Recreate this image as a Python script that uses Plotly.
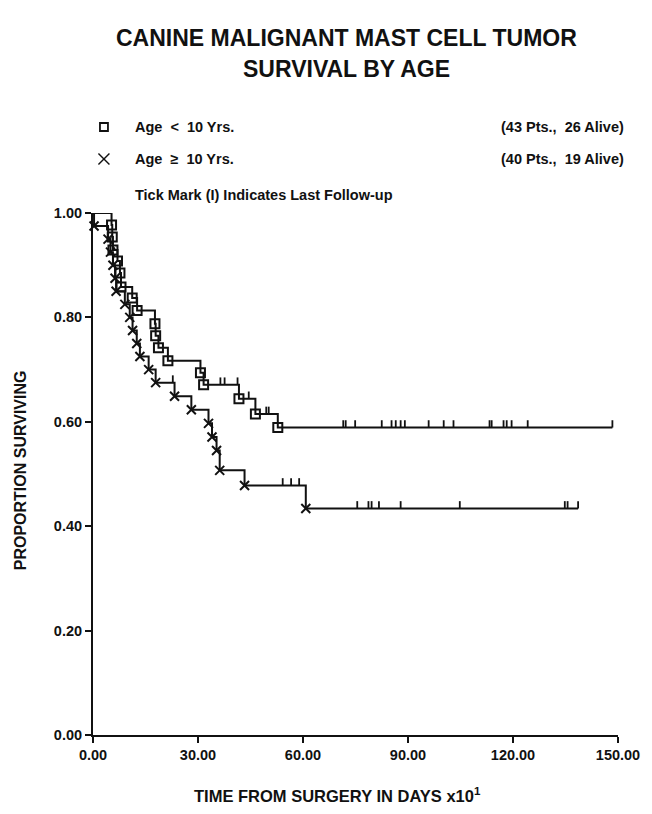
import plotly.graph_objects as go

# ---------------- data (time in days x10, proportion surviving) ----------------
# Age < 10 Yrs. (squares): death times and survival after each death
young_death_t = [5.3, 5.5, 5.7, 7.0, 7.7, 8.0, 11.2, 12.6, 17.7, 17.9, 18.7, 21.4,
                 30.7, 31.6, 41.7, 46.4, 52.8]
young_surv = [0.977, 0.954, 0.929, 0.908, 0.885, 0.858, 0.837, 0.813, 0.788, 0.765,
              0.742, 0.717, 0.694, 0.671, 0.644, 0.615, 0.589]
# censored (last follow-up) times
young_censor_t = [36.4, 37.6, 41.3, 44.5, 49.5, 50.2, 71.5, 72.2, 74.9, 82.5, 85.3,
                  86.5, 87.9, 89.1, 95.9, 100.2, 103.0, 113.3, 113.9, 117.3, 118.2,
                  119.6, 124.2, 148.4]

# Age >= 10 Yrs. (crosses)
old_death_t = [0.3, 4.3, 5.0, 5.7, 6.3, 6.6, 9.1, 10.5, 11.3, 12.5, 13.4, 15.9, 17.9,
               23.3, 28.1, 33.0, 34.0, 35.3, 36.2, 43.3, 60.8]
old_surv = [0.975, 0.95, 0.925, 0.90, 0.875, 0.85, 0.825, 0.80, 0.775, 0.75, 0.725,
            0.70, 0.675, 0.649, 0.623, 0.597, 0.571, 0.545, 0.507, 0.478, 0.434]
old_censor_t = [22.8, 54.2, 56.6, 58.9, 75.5, 78.7, 79.6, 81.7, 87.9, 104.8, 134.8,
                135.6, 138.6]

x_ticks = [0, 30, 60, 90, 120, 150]
y_ticks = [0.0, 0.2, 0.4, 0.6, 0.8, 1.0]

title_lines = ["CANINE MALIGNANT MAST CELL TUMOR", "SURVIVAL BY AGE"]
legend_young = ["Age  &lt;  10 Yrs.", "(43 Pts.,  26 Alive)"]
legend_old = ["Age  ≥  10 Yrs.", "(40 Pts.,  19 Alive)"]
note_text = "Tick Mark (I) Indicates Last Follow-up"
x_title = "TIME FROM SURGERY IN DAYS x10<sup>1</sup>"
y_title = "PROPORTION SURVIVING"

# ---------------- layout geometry (pixels) ----------------
W, H = 652, 814
PL, PR, PT, PB = 93, 620, 213, 735  # plot area edges


def px(x):
    return (x - PL) / (PR - PL)


def py(y):
    return (PB - y) / (PB - PT)


FONT = "Liberation Sans, Arial, Helvetica, sans-serif"
BLACK = "#111111"


def step_xy(times, surv, t_end):
    xs, ys = [0.0], [1.0]
    for t, s in zip(times, surv):
        xs.append(t)
        ys.append(s)
    xs.append(t_end)
    ys.append(surv[-1])
    return xs, ys


def censor_segments(ctimes, times, surv, h=0.014):
    xs, ys = [], []
    for c in ctimes:
        lvl = 1.0
        for t, s in zip(times, surv):
            if t <= c:
                lvl = s
        xs += [c, c, None]
        ys += [lvl, lvl + h, None]
    return xs, ys


fig = go.Figure()

for times, surv, cens, sym in [
    (young_death_t, young_surv, young_censor_t, "square-open"),
    (old_death_t, old_surv, old_censor_t, "x-thin-open"),
]:
    xs, ys = step_xy(times, surv, max(cens))
    fig.add_trace(go.Scatter(x=xs, y=ys, mode="lines", line_shape="hv",
                             line=dict(color=BLACK, width=2), cliponaxis=False,
                             showlegend=False, hoverinfo="skip"))
    cx, cy = censor_segments(cens, times, surv)
    fig.add_trace(go.Scatter(x=cx, y=cy, mode="lines",
                             line=dict(color=BLACK, width=1.8), cliponaxis=False,
                             showlegend=False, hoverinfo="skip"))
    fig.add_trace(go.Scatter(x=times, y=surv, mode="markers",
                             marker=dict(symbol=sym, size=9,
                                         line=dict(color=BLACK, width=2),
                                         color=BLACK),
                             cliponaxis=False, showlegend=False))

annotations = []


def add_text(text, x, y, size, xanchor="center", angle=0):
    annotations.append(dict(text=text, x=px(x), y=py(y), xref="paper", yref="paper",
                            xanchor=xanchor, yanchor="middle", showarrow=False,
                            textangle=angle,
                            font=dict(family=FONT, size=size, color=BLACK, weight="bold")))


add_text(title_lines[0], 347, 38, 23)
add_text(title_lines[1], 347, 69, 23)
add_text(legend_young[0], 133, 127, 14.5, "left")
add_text(legend_young[1], 628, 127, 14.5, "right")
add_text(legend_old[0], 133, 159, 14.5, "left")
add_text(legend_old[1], 628, 159, 14.5, "right")
add_text(note_text, 133, 195, 14.5, "left")
add_text(x_title, 338, 795, 16.5, "center")
add_text(y_title, 20, 470, 16, "center", angle=-90)

shapes = [
    # legend square
    dict(type="rect", xref="paper", yref="paper", xsizemode="pixel", ysizemode="pixel",
         xanchor=px(104), yanchor=py(127), x0=-4, x1=4, y0=-4, y1=4,
         line=dict(color=BLACK, width=1.8)),
    # legend cross
    dict(type="line", xref="paper", yref="paper", xsizemode="pixel", ysizemode="pixel",
         xanchor=px(104), yanchor=py(159), x0=-5.5, x1=5.5, y0=-5.5, y1=5.5,
         line=dict(color=BLACK, width=1.4)),
    dict(type="line", xref="paper", yref="paper", xsizemode="pixel", ysizemode="pixel",
         xanchor=px(104), yanchor=py(159), x0=-5.5, x1=5.5, y0=5.5, y1=-5.5,
         line=dict(color=BLACK, width=1.4)),
]

axis_common = dict(showline=True, linecolor=BLACK, linewidth=2, ticks="outside",
                   ticklen=6, tickwidth=2, tickcolor=BLACK, showgrid=False,
                   zeroline=False, tickformat=".2f",
                   tickfont=dict(family=FONT, size=14.5, color=BLACK, weight="bold"))

fig.update_layout(
    width=W, height=H,
    margin=dict(l=PL, r=W - PR, t=PT, b=H - PB, pad=0),
    paper_bgcolor="white", plot_bgcolor="white",
    xaxis=dict(range=[0, 150], tickvals=x_ticks, **axis_common),
    yaxis=dict(range=[0, 1.0], tickvals=y_ticks, **axis_common),
    annotations=annotations, shapes=shapes, showlegend=False,
)

fig.write_html("out.html", config={"displayModeBar": False},
               post_script="document.body.style.margin='0px';")
